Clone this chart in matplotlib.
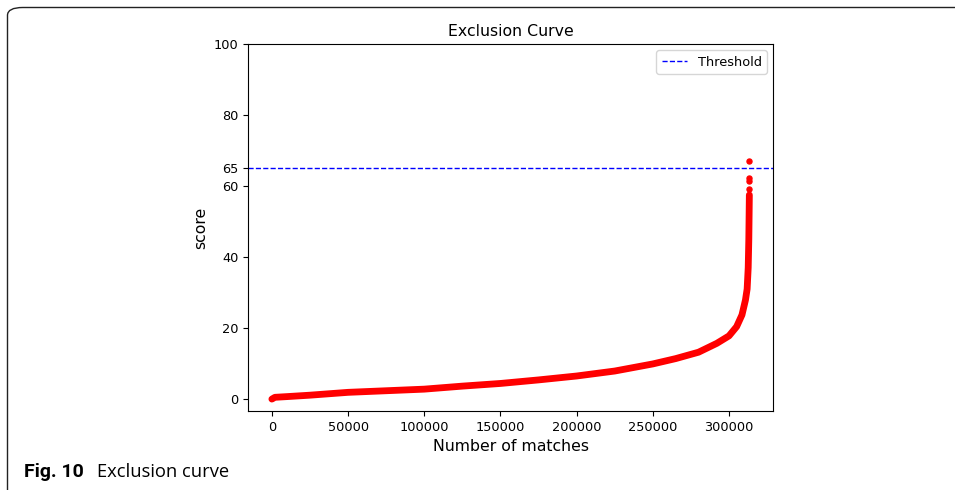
import matplotlib
matplotlib.use("Agg")
import matplotlib.pyplot as plt
from matplotlib.patches import FancyBboxPatch

# sorted exclusion scores
matches = [0, 2000, 10000, 25000, 50000, 75000, 100000, 125000, 150000, 175000,
           200000, 225000, 250000, 265000, 280000, 292000, 300000, 305000,
           308500, 310800, 311900, 312600, 313000, 313200, 313350]
score = [0.0, 0.5, 0.7, 1.1, 1.9, 2.35, 2.8, 3.65, 4.4, 5.4,
         6.5, 7.9, 9.9, 11.4, 13.2, 15.7, 17.8, 20.4,
         23.7, 27.9, 31.0, 37.0, 45.0, 52.0, 57.5]
# isolated top points
top_matches = [313400, 313400, 313400, 313400]
top_scores = [59.1, 61.5, 62.3, 67.1]

threshold = 65
yticks = [0, 20, 40, 60, 65, 80, 100]
xticks = [0, 50000, 100000, 150000, 200000, 250000, 300000]

W, H = 955, 490
fig = plt.figure(figsize=(W / 100, H / 100), dpi=100)

# frame: only top and left edges are inside the picture
frame = FancyBboxPatch((7.5 / W, -0.2), 1.2, 1.2 - 7.5 / H,
                       boxstyle="round,pad=0,rounding_size=0.016",
                       transform=fig.transFigure, fill=False,
                       edgecolor="#222222", linewidth=1.0)
fig.patches.append(frame)

ax = fig.add_axes([248 / W, 1 - 411 / H, (773.3 - 248) / W, (411 - 44) / H])

ax.plot(matches, score, color="red", lw=4.9, solid_capstyle="round")
ax.plot(top_matches, top_scores, "o", color="red", ms=3.6, mec="red")
ax.axhline(threshold, color="blue", ls="--", lw=1.0, label="Threshold")

ax.set_ylim(top=100)
ax.set_yticks(yticks)
ax.set_xticks(xticks)
ax.tick_params(labelsize=9.3)
ax.set_xlabel("Number of matches", fontsize=11.3)
ax.set_ylabel("score", fontsize=11.3)
ax.set_title("Exclusion Curve", fontsize=11.3)
ax.legend(loc="upper right", fontsize=9.3)

fig.text(24 / W, 1 - 477 / H, "Fig. 10", fontsize=14, fontweight="bold",
         family="Roboto", va="baseline")
fig.text(97 / W, 1 - 477 / H, "Exclusion curve", fontsize=13.2,
         family="Open Sans", va="baseline")

fig.savefig("out.png", dpi=100)
